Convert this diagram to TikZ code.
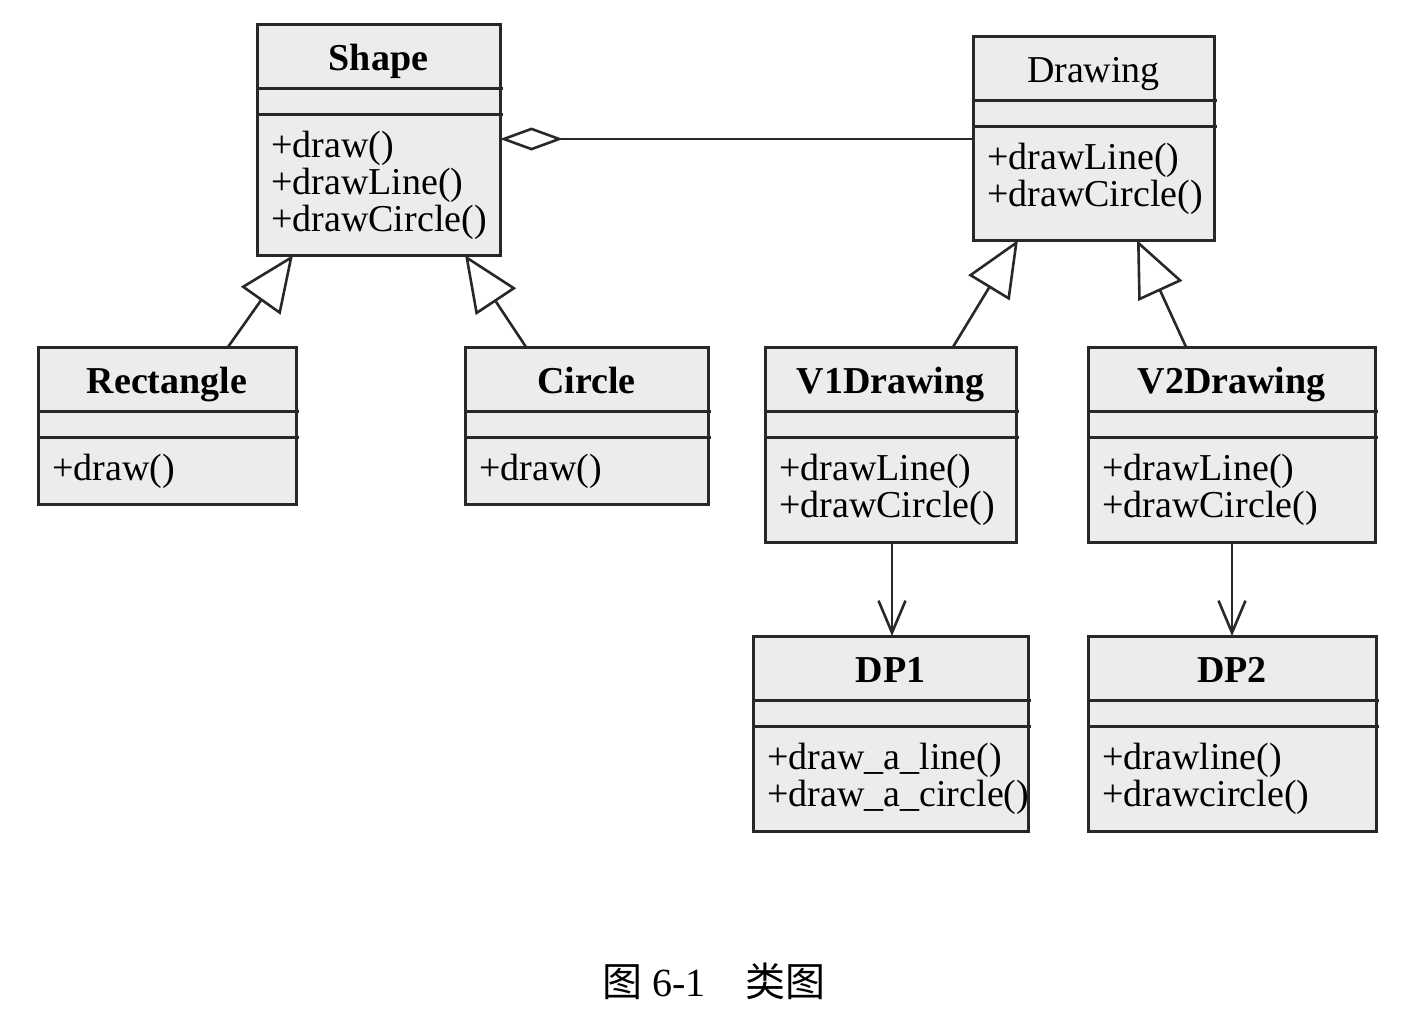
\documentclass[tikz,border=0pt]{standalone}
\usepackage{fontspec}
\setmainfont{Liberation Serif}
\newfontfamily\cjk{Noto Sans CJK SC}
\usetikzlibrary{arrows.meta}
\usetikzlibrary{calc}
\definecolor{boxfill}{RGB}{236,236,236}
\definecolor{boxline}{RGB}{40,40,40}
\tikzset{
	classbox/.style={draw=boxline, fill=boxfill, line width=3pt, inner sep=0pt, outer sep=0pt},
	divider/.style={draw=boxline, line width=3pt},
	classname/.style={font=\fontsize{38}{38}\selectfont, inner sep=0pt, anchor=base},
	classop/.style={font=\fontsize{38}{38}\selectfont, inner sep=0pt, anchor=base west},
	inherit/.style={draw=boxline, line width=2.6pt, -{Triangle[open, length=56pt, width=48pt]}},
	aggregate/.style={draw=boxline, line width=2.6pt, -{Diamond[open, length=63pt, width=23pt]}},
	assoc/.style={draw=boxline, line width=2.6pt, -{Straight Barb[length=32pt, width=27pt]}},
	caption/.style={font=\fontsize{40}{40}\selectfont, inner sep=0pt, anchor=base}
}
\newcommand{\umlclass}[7] % name, x, y, width, height (px), title, operations
{
	% box
	\node[classbox, minimum width=#4pt, minimum height=#5pt, anchor=north west] (#1) at (#2,#3) {};
	% compartments
	\draw[divider] ([yshift=-64pt]#1.north west) -- ([xshift=3pt,yshift=-64pt]#1.north east);
	\draw[divider] ([yshift=-90pt]#1.north west) -- ([xshift=3pt,yshift=-90pt]#1.north east);
	% title
	\node[classname] (#1-title) at (#2+#4/2,#3+46) {#6};
	% operations
	\foreach \op [count=\k] in {#7}
		\node[classop] (#1-op\k) at (#2+14,#3+133+37*\k-37) {\op};
}

\begin{document}
\begin{tikzpicture}[x=1pt, y=-1pt]
	% 1424 x 1012 px
	\useasboundingbox (0,0) rectangle (1424,1012);
	\umlclass{shape}{257}{24}{243}{231}{\textbf{Shape}}{+draw(),+drawLine(),+drawCircle()};
	\umlclass{drawing}{973}{36}{241}{204}{Drawing}{+drawLine(),+drawCircle()};
	\umlclass{rectangle}{38}{347}{258}{157}{\textbf{Rectangle}}{+draw()};
	\umlclass{circle}{465}{347}{243}{157}{\textbf{Circle}}{+draw()};
	\umlclass{v1drawing}{765}{347}{251}{195}{\textbf{V1Drawing}}{+drawLine(),+drawCircle()};
	\umlclass{v2drawing}{1088}{347}{287}{195}{\textbf{V2Drawing}}{+drawLine(),+drawCircle()};
	\umlclass{dp1}{753}{636}{275}{195}{\textbf{DP1}}{+draw\_a\_line(),+draw\_a\_circle()};
	\umlclass{dp2}{1088}{636}{288}{195}{\textbf{DP2}}{+drawline(),+drawcircle()};
	
	% aggregation
	\draw[aggregate] ($(drawing.north west)+(0,103)$) -- ($(shape.north east)+(0,115)$);
	% generalization
	\draw[inherit] ($(rectangle.north west)+(190,0)$) -- ($(shape.south west)+(36,0)$);
	\draw[inherit] ($(circle.north west)+(61,0)$) -- ($(shape.south east)+(-35,0)$);
	\draw[inherit] ($(v1drawing.north west)+(188,0)$) -- ($(drawing.south west)+(45,0)$);
	\draw[inherit] ($(v2drawing.north west)+(98,0)$) -- ($(drawing.south east)+(-77,0)$);
	% association
	\draw[assoc] ($(v1drawing.south west)+(127,0)$) -- ($(dp1.north west)+(139,0)$);
	\draw[assoc] ($(v2drawing.south west)+(144,0)$) -- ($(dp2.north west)+(144,0)$);
	
	\node[caption] (cap) at (714,996) {{\cjk 图} 6-1\quad{\cjk 类图}};
\end{tikzpicture}
\end{document}
